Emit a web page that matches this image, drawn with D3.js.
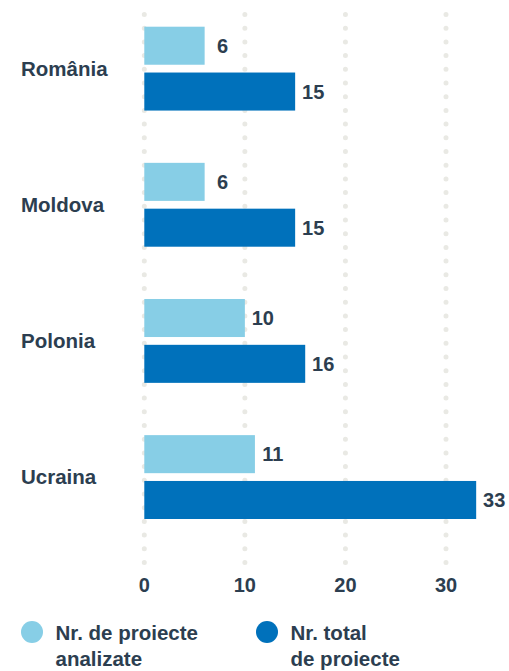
<!DOCTYPE html>
<html>
<head>
<meta charset="utf-8">
<script src="https://cdn.jsdelivr.net/npm/d3@7"></script>
<style>
  body { margin: 0; background: #fff; }
  svg text { font-family: "Liberation Sans", Arial, sans-serif; font-weight: bold; fill: #2c3e50; }
</style>
</head>
<body>
<svg id="chart"></svg>
<script>
const countries = ["România", "Moldova", "Polonia", "Ucraina"];
const seriesKeys = ["analizate", "total"];
const analyzed = [6, 6, 10, 11];
const total = [15, 15, 16, 33];
const xTicks = [0, 10, 20, 30];
const legendLabels = [["Nr. de proiecte", "analizate"], ["Nr. total", "de proiecte"]];
const colors = ["#87cee6", "#0071bb"];

const width = 509, height = 671;
const svg = d3.select("#chart").attr("width", width).attr("height", height);

const x = d3.scaleLinear().domain([0, 30]).range([144.3, 446]);
const y = d3.scaleBand().domain(countries).range([26.7, 519]).paddingInner(0.384);
const ySub = d3.scaleBand().domain(seriesKeys).range([0, y.bandwidth()]).paddingInner(0.17);

// dotted grid
svg.append("g").selectAll("line")
  .data(xTicks)
  .join("line")
  .attr("x1", d => x(d)).attr("x2", d => x(d))
  .attr("y1", 14.5).attr("y2", 565)
  .attr("stroke", "#e9e9e4")
  .attr("stroke-width", 5)
  .attr("stroke-linecap", "round")
  .attr("stroke-dasharray", "0 13.7");

// tick labels
svg.append("g").selectAll("text")
  .data(xTicks)
  .join("text")
  .attr("x", d => x(d))
  .attr("y", 591.5)
  .attr("text-anchor", "middle")
  .style("font-size", "20px")
  .text(d => d);

const rows = countries.map((c, i) => ({ country: c, values: [analyzed[i], total[i]] }));

const groups = svg.append("g").selectAll("g")
  .data(rows)
  .join("g")
  .attr("transform", d => `translate(0,${y(d.country)})`);

groups.append("text")
  .attr("x", 21)
  .attr("y", y.bandwidth() / 2)
  .attr("dy", "0.36em")
  .style("font-size", "20.5px")
  .text(d => d.country);

const bars = groups.selectAll("g.bar")
  .data(d => d.values.map((v, k) => ({ key: seriesKeys[k], value: v, k: k })))
  .join("g")
  .attr("class", "bar");

bars.append("rect")
  .attr("x", x(0))
  .attr("y", d => ySub(d.key))
  .attr("width", d => x(d.value) - x(0))
  .attr("height", ySub.bandwidth())
  .attr("fill", d => colors[d.k]);

bars.append("text")
  .attr("x", d => x(d.value) + 18)
  .attr("y", d => ySub(d.key) + ySub.bandwidth() / 2)
  .attr("dy", "0.36em")
  .attr("text-anchor", "middle")
  .style("font-size", "20px")
  .text(d => d.value);

// legend
const legendX = [32, 267];
const legend = svg.append("g").selectAll("g")
  .data(legendLabels)
  .join("g")
  .attr("transform", (d, i) => `translate(${legendX[i]},632)`);

legend.append("circle")
  .attr("r", 11)
  .attr("fill", (d, i) => colors[i]);

legend.append("text")
  .attr("x", 23.5)
  .attr("y", 8)
  .style("font-size", "20.5px")
  .selectAll("tspan")
  .data(d => d)
  .join("tspan")
  .attr("x", 23.5)
  .attr("dy", (d, i) => i === 0 ? 0 : 26)
  .text(d => d);
</script>
</body>
</html>
